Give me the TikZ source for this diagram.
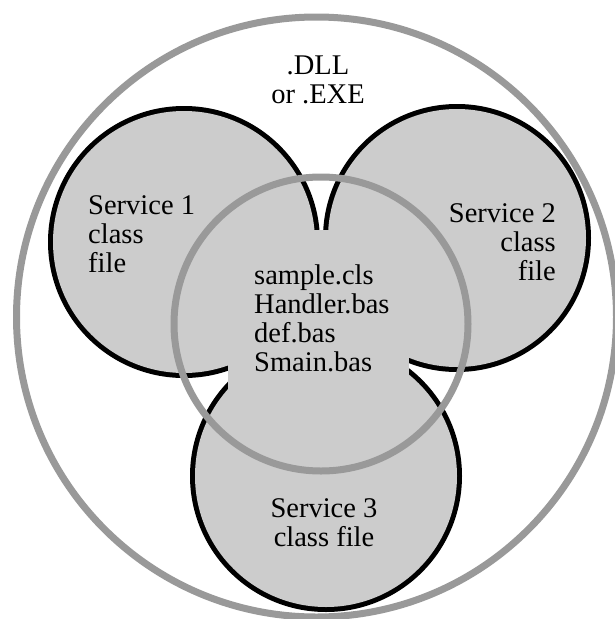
\documentclass[tikz,border=0pt]{standalone}
\usepackage{fontspec}
\setmainfont{Liberation Serif}
\definecolor{blobfill}{HTML}{CCCCCC}
\definecolor{ringgray}{HTML}{999999}
\tikzset{
  ring/.style={draw=ringgray, line width=7pt},
  blobedge/.style={draw=black, line width=10pt},
  blobbody/.style={fill=blobfill},
  lbl/.style={inner sep=0pt, font=\fontsize{28.5pt}{28.7pt}\selectfont}
}
\begin{document}
\begin{tikzpicture}[x=1pt,y=-1pt]
\useasboundingbox (0,0) rectangle (614,619);
\fill[white] (0,0) rectangle (614,619);

% the module boundary
\draw[ring] (316.5,317) circle[radius=300pt];

% three service lobes: thick outline first, then refill so only the outer half shows
\coordinate (c1) at (184,242);
\coordinate (c2) at (457,238);
\coordinate (c3) at (326,476);
\draw[blobedge] (c1) circle[radius=131pt];
\draw[blobedge] (c2) circle[radius=129pt];
\draw[blobedge] (c3) circle[radius=131pt];
\fill[blobbody] (c1) circle[radius=131pt];
\fill[blobbody] (c2) circle[radius=129pt];
\fill[blobbody] (c3) circle[radius=131pt];
% shared core joining the lobes
\fill[blobbody] (228,230) rectangle (409,400);

% common code ring
\draw[ring] (321,324) circle[radius=147pt];

% labels (base anchor sits on the last line)
\node[lbl, align=center, anchor=base] (dll) at (318,103) {.DLL\\or .EXE};
\node[lbl, align=left, anchor=base west] (s1) at (88,272) {Service 1\\class\\file};
\node[lbl, align=right, anchor=base east] (s2) at (556,280) {Service 2\\class\\file};
\node[lbl, align=left, anchor=base west] (core) at (254,371) {sample.cls\\Handler.bas\\def.bas\\Smain.bas};
\node[lbl, align=center, anchor=base] (s3) at (324,546) {Service 3\\class file};
\end{tikzpicture}
\end{document}
